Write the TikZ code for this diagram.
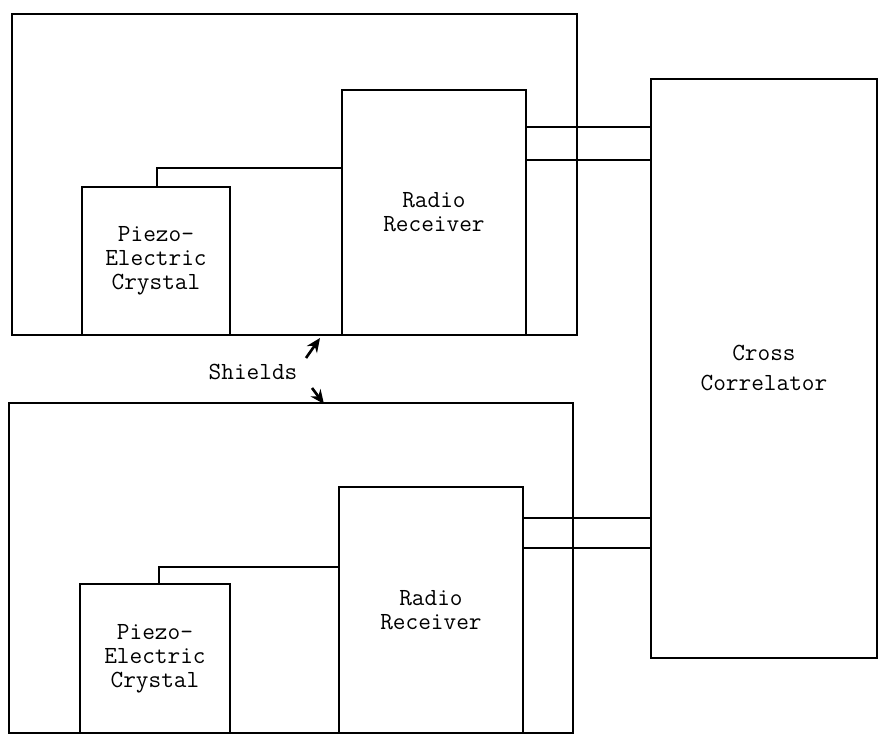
\documentclass[tikz,border=0pt]{standalone}
\usepackage{fontspec}
\usepackage{tikz}
\usetikzlibrary{arrows.meta, positioning, calc}

\begin{document}
\begin{tikzpicture}[x=0.02cm, y=-0.02cm,
    line width=1.1pt,
    shield/.style={draw, anchor=north west, inner sep=0pt},
    block/.style={draw, fill=white, anchor=north west, inner sep=0pt, align=center,
        font=\ttfamily\fontsize{14}{13.6}\selectfont},
    label/.style={font=\ttfamily\fontsize{14}{16}\selectfont},
    pointer/.style={-{Stealth[length=8pt, width=7pt]}, line width=1.5pt}]
                \useasboundingbox (0,0) rectangle (878,736);

                % Schermi
                \node[shield, minimum width=11.3cm, minimum height=6.42cm] (shieldA) at (11,13) {};
                \node[shield, minimum width=11.28cm, minimum height=6.6cm] (shieldB) at (8,402) {};

                % Canale superiore
                \node[block, minimum width=2.96cm, minimum height=2.96cm] (crystalA) at (81,186) {Piezo-\\Electric\\Crystal};
                \node[block, minimum width=3.68cm, minimum height=4.9cm] (receiverA) at (341,89) {Radio\\Receiver};

                % Canale inferiore
                \node[block, minimum width=3.0cm, minimum height=2.98cm] (crystalB) at (79,583) {Piezo-\\Electric\\Crystal};
                \node[block, minimum width=3.68cm, minimum height=4.92cm] (receiverB) at (338,486) {Radio\\Receiver};

                % Correlatore
                \node[block, font=\ttfamily\fontsize{14}{17}\selectfont, minimum width=4.52cm, minimum height=11.58cm] (correlator) at (650,78) {Cross\\Correlator};

                % Collegamenti
                \draw (crystalA.north -| 157,0) |- (receiverA.west |- 0,168);
                \draw (crystalB.north -| 159,0) |- (receiverB.west |- 0,567);
                \draw (receiverA.east |- 0,127) -- (correlator.west |- 0,127);
                \draw (receiverA.east |- 0,160) -- (correlator.west |- 0,160);
                \draw (receiverB.east |- 0,518) -- (correlator.west |- 0,518);
                \draw (receiverB.east |- 0,548) -- (correlator.west |- 0,548);

                % Etichetta
                \node[label] (shields) at (253,372) {Shields};
                \coordinate (tipA) at (320,338);
                \coordinate (tipB) at (324,404);
                \draw[pointer] (306,358) -- (tipA);
                \draw[pointer] (312,388) -- (tipB);
            \end{tikzpicture}
\end{document}
